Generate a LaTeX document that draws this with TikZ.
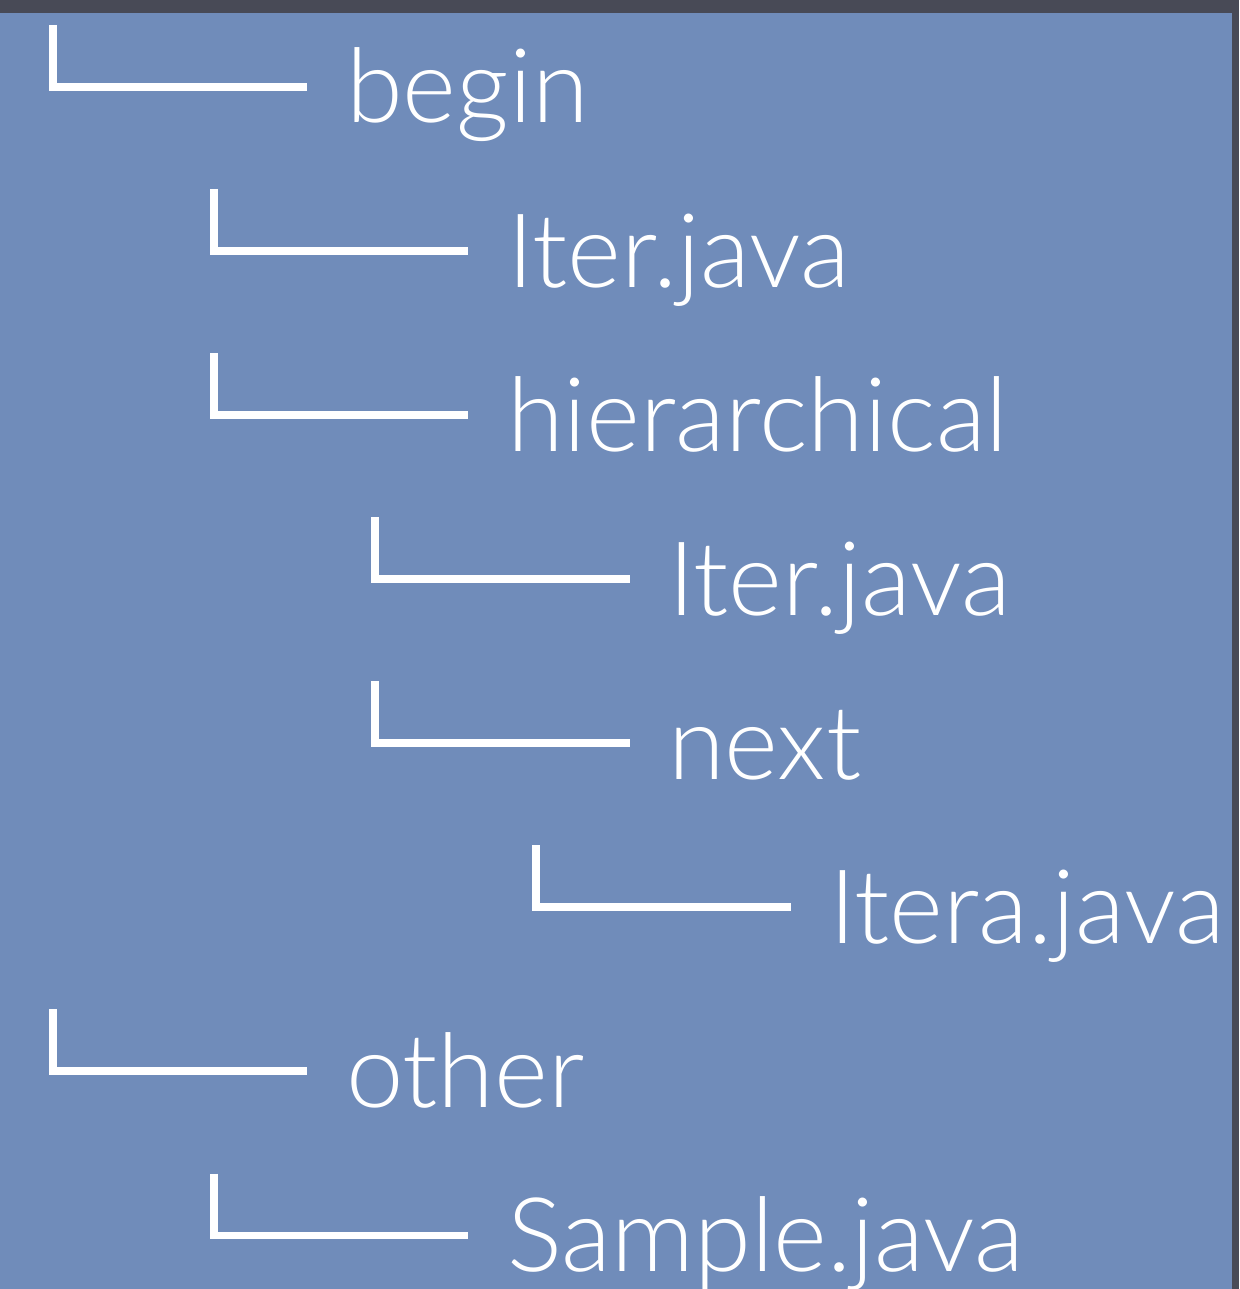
\documentclass[tikz,border=0pt]{standalone}
\usepackage{fontspec}
\setmainfont{Lato Light}
\definecolor{bgblue}{RGB}{112,140,186}
\definecolor{framegray}{RGB}{72,74,86}
\begin{document}
\begin{tikzpicture}[x=1pt,y=-1pt,
  conn/.style={draw=white,line width=7.3pt,line cap=butt,line join=miter},
  lbl/.style={anchor=base west,inner sep=0pt,outer sep=0pt,text=white,font=\fontsize{103}{110}\selectfont}]
\fill[framegray] (0,0) rectangle (1239,1289);
\fill[bgblue] (0,13) rectangle (1232,1289);
\useasboundingbox (0,0) rectangle (1239,1289);
% labels
\node[lbl] (begin)  at (346,123)   {begin};
\node[lbl] (iterA)  at (507,287)   {Iter.java};
\node[lbl] (hier)   at (507,451)   {hierarchical};
\node[lbl] (iterB)  at (668,615)   {Iter.java};
\node[lbl] (next)   at (668,779)   {next};
\node[lbl] (itera)  at (829,943)   {Itera.java};
\node[lbl] (other)  at (346,1107)  {other};
\node[lbl] (sample) at (507,1271.5){Sample.java};
% connector corners
\coordinate (t0) at (53,25);     \coordinate (e0) at (307,87);
\coordinate (t1) at (214,189);   \coordinate (e1) at (468,251);
\coordinate (t2) at (214,353);   \coordinate (e2) at (468,415);
\coordinate (t3) at (375,517);   \coordinate (e3) at (630,579);
\coordinate (t4) at (375,681);   \coordinate (e4) at (630,743);
\coordinate (t5) at (536,845);   \coordinate (e5) at (791,907);
\coordinate (t6) at (53,1009);   \coordinate (e6) at (307,1071);
\coordinate (t7) at (214,1173.5);\coordinate (e7) at (468,1235.5);
\foreach \i in {0,...,7} {\draw[conn] (t\i) |- (e\i);}
\end{tikzpicture}
\end{document}
